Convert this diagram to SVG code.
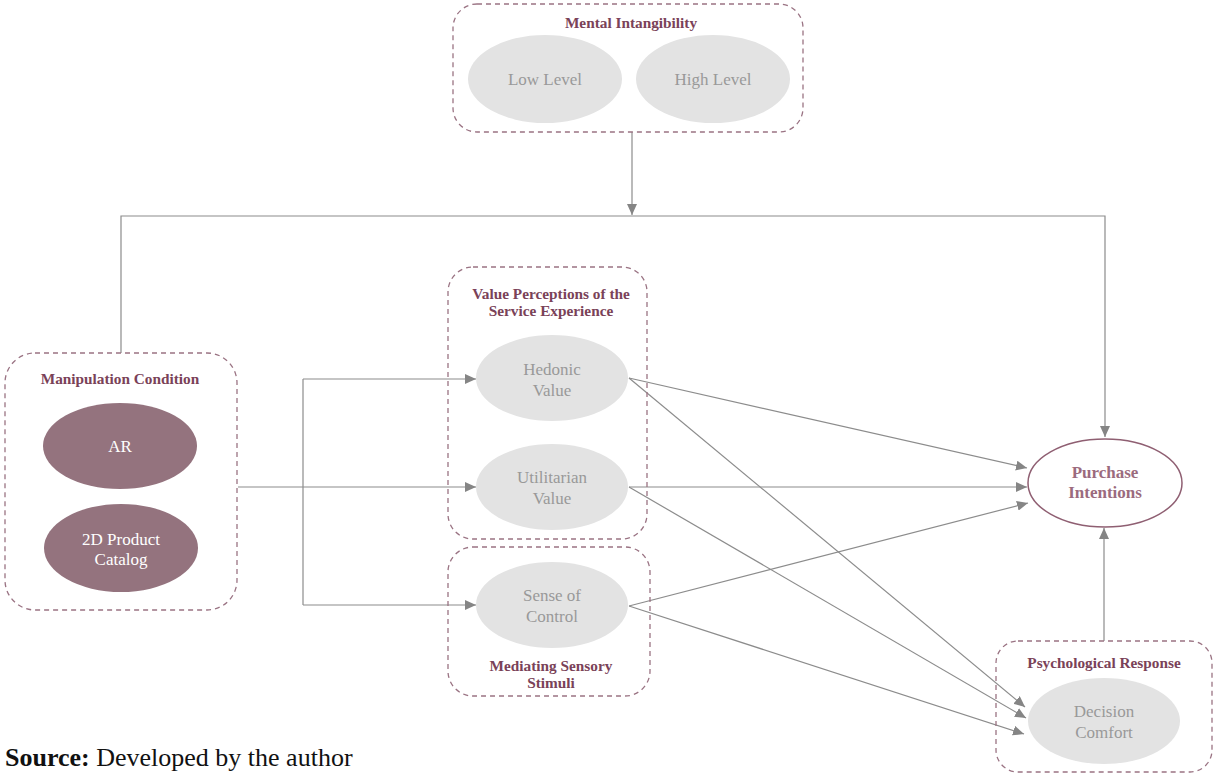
<svg xmlns="http://www.w3.org/2000/svg" width="1213" height="773" viewBox="0 0 1213 773">
<style>
.box{fill:none;stroke:#9a7383;stroke-width:1.3;stroke-dasharray:5,4}
.title{font-family:"Liberation Serif",serif;font-weight:bold;font-size:15.3px;fill:#7a4258;text-anchor:middle}
.gray{fill:#e3e3e3}
.gt{font-family:"Liberation Serif",serif;font-size:17px;fill:#999;text-anchor:middle}
.dark{fill:#94737e}
.wt{font-family:"Liberation Serif",serif;font-size:17px;fill:#fff;text-anchor:middle}
.pt{font-family:"Liberation Serif",serif;font-weight:bold;font-size:17px;fill:#9b6b7e;text-anchor:middle}
.ln{fill:none;stroke:#8c8c8c;stroke-width:1.2}
</style>
<defs>
<marker id="ah" markerWidth="11" markerHeight="10" refX="11" refY="5" orient="auto" markerUnits="userSpaceOnUse">
<path d="M0,0 L11,5 L0,10 Z" fill="#858585"/>
</marker>
</defs>
<rect width="1213" height="773" fill="#fff"/>
<g id="connectors">
<path class="ln" d="M632,132 V215" marker-end="url(#ah)"/>
<path class="ln" d="M121,353 V216 H1105 V437" marker-end="url(#ah)"/>
<path class="ln" d="M238,487 H476" marker-end="url(#ah)"/>
<path class="ln" d="M303,379 V605"/>
<path class="ln" d="M303,379 H476" marker-end="url(#ah)"/>
<path class="ln" d="M303,605 H476" marker-end="url(#ah)"/>
<path class="ln" d="M629,378 L1027,468" marker-end="url(#ah)"/>
<path class="ln" d="M629,378 L1025,707" marker-end="url(#ah)"/>
<path class="ln" d="M629,487 L1027,487" marker-end="url(#ah)"/>
<path class="ln" d="M629,487 L1026,718" marker-end="url(#ah)"/>
<path class="ln" d="M629,606 L1028,503" marker-end="url(#ah)"/>
<path class="ln" d="M629,606 L1024,734" marker-end="url(#ah)"/>
<path class="ln" d="M1104,641 V528" marker-end="url(#ah)"/>
</g>
<g id="mental-intangibility">
<rect class="box" x="453" y="4" width="350" height="128" rx="24"/>
<text class="title" x="631" y="28">Mental Intangibility</text>
<g id="low-level"><ellipse class="gray" cx="545" cy="79" rx="77" ry="44"/><text class="gt" x="545" y="85">Low Level</text></g>
<g id="high-level"><ellipse class="gray" cx="713" cy="79" rx="77" ry="44"/><text class="gt" x="713" y="85">High Level</text></g>
</g>
<g id="manipulation-condition">
<rect class="box" x="5" y="353" width="232" height="257" rx="30"/>
<text class="title" x="120" y="384">Manipulation Condition</text>
<g id="ar"><ellipse class="dark" cx="120" cy="446" rx="77" ry="43"/><text class="wt" x="120" y="452">AR</text></g>
<g id="catalog"><ellipse class="dark" cx="121" cy="548" rx="77" ry="44"/><text class="wt" x="121" y="545">2D Product</text><text class="wt" x="121" y="565">Catalog</text></g>
</g>
<g id="value-perceptions">
<rect class="box" x="448" y="267" width="199" height="272" rx="25"/>
<text class="title" x="551" y="299">Value Perceptions of the</text>
<text class="title" x="551" y="316">Service Experience</text>
<g id="hedonic"><ellipse class="gray" cx="552" cy="378" rx="76" ry="43"/><text class="gt" x="552" y="375">Hedonic</text><text class="gt" x="552" y="396">Value</text></g>
<g id="utilitarian"><ellipse class="gray" cx="552" cy="487" rx="76" ry="43"/><text class="gt" x="552" y="483">Utilitarian</text><text class="gt" x="552" y="504">Value</text></g>
</g>
<g id="mediating-sensory">
<rect class="box" x="448" y="547" width="202" height="149" rx="25"/>
<g id="sense-of-control"><ellipse class="gray" cx="552" cy="605" rx="76" ry="43"/><text class="gt" x="552" y="601">Sense of</text><text class="gt" x="552" y="622">Control</text></g>
<text class="title" x="551" y="671">Mediating Sensory</text>
<text class="title" x="551" y="688">Stimuli</text>
</g>
<g id="purchase-intentions">
<ellipse cx="1105" cy="483" rx="77" ry="44" fill="#fff" stroke="#8f5f72" stroke-width="1.5"/>
<text class="pt" x="1105" y="478">Purchase</text>
<text class="pt" x="1105" y="498">Intentions</text>
</g>
<g id="psychological-response">
<rect class="box" x="996" y="641" width="216" height="131" rx="22"/>
<text class="title" x="1104" y="668">Psychological Response</text>
<g id="decision-comfort"><ellipse class="gray" cx="1104" cy="721" rx="76" ry="43"/><text class="gt" x="1104" y="717">Decision</text><text class="gt" x="1104" y="738">Comfort</text></g>
</g>
<text x="5" y="766" style="font-family:'Liberation Serif',serif;font-size:26px;fill:#111"><tspan font-weight="bold">Source:</tspan> Developed by the author</text>
</svg>
